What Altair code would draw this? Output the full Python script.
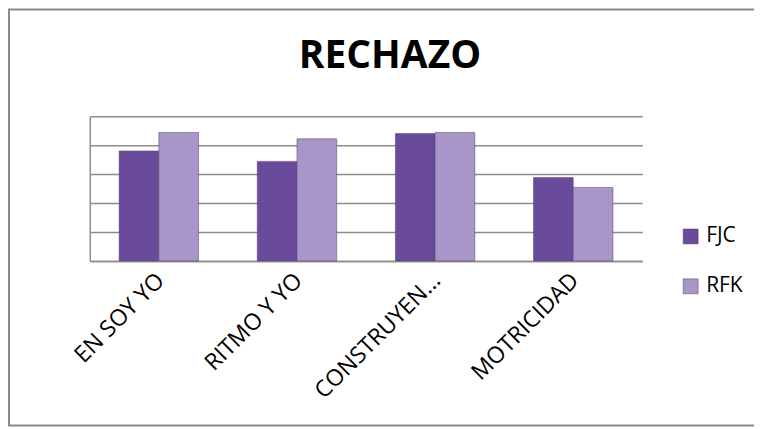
import altair as alt
import pandas as pd

categories = ["EN SOY YO", "RITMO Y YO", "CONSTRUYEN...", "MOTRICIDAD"]
series = ["FJC", "RFK"]
fjc = [3.80, 3.44, 4.40, 2.88]
rfk = [4.44, 4.22, 4.44, 2.54]
colors = ["#6a4b9b", "#a896c8"]
title_text = ["RECHAZO"]

rows = []
for c, a, b in zip(categories, fjc, rfk):
    rows.append({"cat": c, "series": series[0], "value": a})
    rows.append({"cat": c, "series": series[1], "value": b})
df = pd.DataFrame(rows)

W, H = 554, 145
GRID = "#8c8c8c"

bars = alt.Chart(df).mark_bar(stroke="#4e3f6e", strokeWidth=1, strokeOpacity=0.5).encode(
    x=alt.X(
        "cat:N", sort=categories,
        scale=alt.Scale(paddingInner=0.425, paddingOuter=0.2125),
        axis=alt.Axis(title=None, labelAngle=-45, labelFontSize=23, labelFont="Open Sans",
                      labelColor="black", labelPadding=8, labelOffset=-6, ticks=False,
                      domainColor=GRID, domainWidth=1.5, labelLimit=0),
    ),
    xOffset=alt.XOffset("series:N", sort=series, scale=alt.Scale(paddingInner=0, paddingOuter=0)),
    y=alt.Y(
        "value:Q", scale=alt.Scale(domain=[0, 5], nice=False),
        axis=alt.Axis(title=None, labels=False, ticks=False, values=[0, 1, 2, 3, 4, 5], grid=True,
                      gridColor=GRID, gridWidth=1.5, domainColor=GRID, domainWidth=1.5),
    ),
    color=alt.Color(
        "series:N", sort=series, scale=alt.Scale(domain=series, range=colors),
        legend=alt.Legend(title=None, orient="none", legendX=592, legendY=110, symbolType="square",
                          symbolSize=225, labelFontSize=21, labelFont="Open Sans", labelColor="black",
                          rowPadding=28, labelOffset=5, padding=0, symbolStrokeColor="#4e3f6e",
                          symbolStrokeWidth=0.5),
    ),
)

frame = alt.Chart(pd.DataFrame({"a": [0]})).mark_rect(
    fillOpacity=0, stroke="#8a8a8a", strokeWidth=2
).encode(x=alt.value(-81), x2=alt.value(800), y=alt.value(-107), y2=alt.value(310))

title = alt.Chart(pd.DataFrame({"t": title_text})).mark_text(
    font="Open Sans", fontSize=39, fontWeight="bold", color="black", align="center", baseline="alphabetic"
).encode(text="t:N", x=alt.value(301), y=alt.value(-48))

chart = alt.layer(frame, bars, title).properties(
    width=W, height=H, autosize="none",
    padding={"left": 82, "top": 108, "right": 112, "bottom": 166},
).configure_view(stroke=None)

chart.save("out.html", embed_options={"renderer": "svg", "actions": False})
